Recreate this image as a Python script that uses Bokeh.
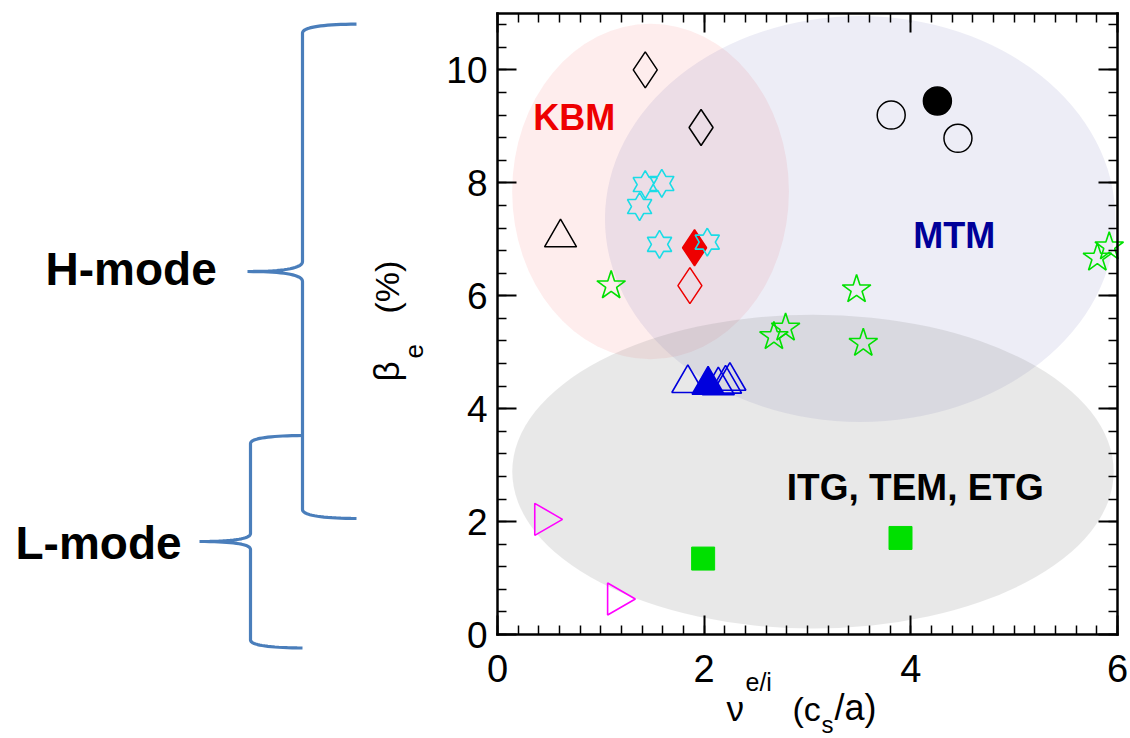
import numpy as np
from bokeh.plotting import figure
from bokeh.models import Range1d, LinearAxis, SingleIntervalTicker, Label, ColumnDataSource
from bokeh.embed import file_html
from bokeh.resources import INLINE

FONT = "Liberation Sans"

# ---------------- data ----------------
region_names = ["KBM", "MTM", "ITG, TEM, ETG"]
region_x = [1.481, 3.51, 3.053]
region_y = [7.847, 7.36, 2.886]
region_w = [2.678, 4.94, 5.82]
region_h = [5.94, 7.19, 5.56]
region_label_x = [0.346, 4.024, 2.80]
region_label_y = [9.16, 7.06, 2.61]

diam_open_black_x = [1.43, 1.97]
diam_open_black_y = [10.0, 8.98]
diam_fill_red_x = [1.907]
diam_fill_red_y = [6.85]
diam_open_red_x = [1.862]
diam_open_red_y = [6.18]
tri_black_x = [0.61]
tri_black_y = [7.03]
hexstar_x = [1.43, 1.59, 1.375, 1.568, 2.03]
hexstar_y = [7.97, 7.99, 7.58, 6.91, 6.95]
star_x = [1.10, 2.675, 2.788, 3.475, 3.54, 5.805, 5.92]
star_y = [6.18, 5.28, 5.43, 6.11, 5.16, 6.67, 6.87]
circ_open_x = [3.81, 4.456]
circ_open_y = [9.20, 8.79]
circ_fill_x = [4.257]
circ_fill_y = [9.45]
tri_blue_open_x = [1.842, 2.137, 2.207, 2.249]
tri_blue_open_y = [4.45, 4.41, 4.44, 4.49]
tri_blue_fill_x = [2.038]
tri_blue_fill_y = [4.42]
tri_mag_x = [0.45, 1.155]
tri_mag_y = [2.04, 0.63]
square_x = [1.99, 3.90]
square_y = [1.345, 1.71]

x_axis_range = [0, 6]
y_axis_range = [0, 11]
x_tick_interval = 2
y_tick_interval = 2

# ---------------- styles ----------------
region_fill = ["#f56e6e", "#5a5aaa", "#808080"]
region_alpha = [0.12, 0.11, 0.18]
region_text_color = ["#ee0000", "#000099", "#000000"]
region_text_size = ["36px", "36px", "37px"]

GREEN = "#00e000"
CYAN = "#1adce6"
BLUE = "#0000dd"
RED = "#ee0000"
MAGENTA = "#ff00ff"
BRACE = "#4a7ebb"

# page geometry: the plotting box of the axes in canvas pixels
W, H = 1130, 738
BOX_L, BOX_R, BOX_T, BOX_B = 497, 1117, 13, 634
SX = (BOX_R - BOX_L) / (x_axis_range[1] - x_axis_range[0])
SY = (BOX_B - BOX_T) / (y_axis_range[1] - y_axis_range[0])


def X(px):
    return x_axis_range[0] + (px - BOX_L) / SX


def Y(py):
    return y_axis_range[0] + (BOX_B - py) / SY


p = figure(width=W, height=H, x_range=Range1d(X(0), X(W)), y_range=Range1d(Y(H), Y(0)),
           output_backend="svg", toolbar_location=None, min_border=0,
           x_axis_type=None, y_axis_type=None)
p.outline_line_color = None
p.background_fill_color = "white"
p.border_fill_color = "white"


def make_axis(ticker, loc, bounds, labels):
    ax = LinearAxis(ticker=ticker, fixed_location=loc, bounds=tuple(bounds))
    ax.axis_line_color = "black"
    ax.axis_line_width = 2.5
    ax.axis_line_cap = "square"
    ax.major_tick_in = 19
    ax.major_tick_out = 0
    ax.minor_tick_in = 9
    ax.minor_tick_out = 0
    ax.major_tick_line_width = 2
    ax.minor_tick_line_width = 1.5
    ax.major_tick_line_color = "black"
    ax.minor_tick_line_color = "black"
    if labels:
        ax.major_label_text_font = FONT
        ax.major_label_text_color = "black"
    else:
        ax.major_label_text_color = None
        ax.major_label_text_font_size = "1px"
        ax.major_label_standoff = 0
    return ax


xa = make_axis(SingleIntervalTicker(interval=x_tick_interval, num_minor_ticks=10),
               y_axis_range[0], x_axis_range, True)
xa.major_label_text_font_size = "38px"
xa.major_label_standoff = 20
ya = make_axis(SingleIntervalTicker(interval=y_tick_interval, num_minor_ticks=5),
               x_axis_range[0], y_axis_range, True)
ya.major_label_text_font_size = "37px"
ya.major_label_standoff = 10
xt = make_axis(SingleIntervalTicker(interval=x_tick_interval, num_minor_ticks=10),
               y_axis_range[1], x_axis_range, False)
yr = make_axis(SingleIntervalTicker(interval=y_tick_interval, num_minor_ticks=5),
               x_axis_range[1], y_axis_range, False)
p.add_layout(xa, "below")
p.add_layout(ya, "left")
p.add_layout(xt, "above")
p.add_layout(yr, "right")

# regions
rsrc = ColumnDataSource(dict(x=region_x, y=region_y, w=region_w, h=region_h,
                             c=region_fill, a=region_alpha))
p.ellipse(x="x", y="y", width="w", height="h", fill_color="c", fill_alpha="a",
          line_color=None, source=rsrc)

for name, lx, ly, col, fs in zip(region_names, region_label_x, region_label_y,
                                 region_text_color, region_text_size):
    p.add_layout(Label(x=lx, y=ly, text=name, text_font=FONT, text_font_style="bold",
                       text_font_size=fs, text_color=col, text_align="left",
                       text_baseline="middle"))

# markers
p.scatter(diam_open_black_x, diam_open_black_y, marker="diamond", size=36,
          fill_color=None, line_color="black", line_width=1.5)
p.scatter(diam_fill_red_x, diam_fill_red_y, marker="diamond", size=36,
          fill_color=RED, line_color=RED, line_width=1.5)
p.scatter(diam_open_red_x, diam_open_red_y, marker="diamond", size=36,
          fill_color=None, line_color=RED, line_width=1.5)
p.scatter(tri_black_x, tri_black_y, marker="triangle", size=32,
          fill_color=None, line_color="black", line_width=1.5)


def hexagram(xc, yc, R=14.0):
    k = np.arange(13)
    ang = np.deg2rad(90 + 30 * k)
    r = np.where(k % 2 == 0, R, R / np.sqrt(3))
    return list(xc + r * np.cos(ang) / SX), list(yc + r * np.sin(ang) / SY)


hx, hy = [], []
for cx, cy in zip(hexstar_x, hexstar_y):
    a, b_ = hexagram(cx, cy)
    hx.append(a)
    hy.append(b_)
p.multi_line(hx, hy, line_color=CYAN, line_width=1.6)

p.scatter(star_x, star_y, marker="star", size=30, fill_color=None,
          line_color=GREEN, line_width=1.6)
p.scatter(circ_open_x, circ_open_y, marker="circle", size=28, fill_color=None,
          line_color="black", line_width=1.5)
p.scatter(circ_fill_x, circ_fill_y, marker="circle", size=28, fill_color="black",
          line_color="black", line_width=1.5)
p.scatter(tri_blue_open_x, tri_blue_open_y, marker="triangle", size=32, fill_color=None,
          line_color=BLUE, line_width=1.6)
p.scatter(tri_blue_fill_x, tri_blue_fill_y, marker="triangle", size=32, fill_color=BLUE,
          line_color=BLUE, line_width=1.6)
p.scatter(tri_mag_x, tri_mag_y, marker="triangle", size=32, angle=-np.pi / 2,
          fill_color=None, line_color=MAGENTA, line_width=1.6)
p.scatter(square_x, square_y, marker="square", size=23, fill_color=GREEN, line_color=GREEN)


# axis titles built from pieces; (px, mid) = canvas pixel position of the text's middle line
def lab(px, py, text, size, angle=0.0, style="normal", align="left"):
    p.add_layout(Label(x=X(px), y=Y(py), text=text, text_font=FONT, text_font_size=size,
                       text_font_style=style, angle=angle, text_align=align,
                       text_baseline="middle", text_color="black"))


lab(726, 707.5, "ν", "35px")
lab(745, 681, "e/i", "25px")
lab(792, 708, "(c", "34px")
lab(821, 724, "s", "24px")
lab(834, 707, "/a)", "36px")

lab(386, 381, "β", "35px", angle=np.pi / 2)
lab(413, 358, "e", "26px", angle=np.pi / 2)
lab(386, 313, "(%)", "34px", angle=np.pi / 2)


# ---------------- braces on the left ----------------
def qbez(p0, c, p1, n=20):
    t = np.linspace(0, 1, n)
    xs = (1 - t) ** 2 * p0[0] + 2 * (1 - t) * t * c[0] + t ** 2 * p1[0]
    ys = (1 - t) ** 2 * p0[1] + 2 * (1 - t) * t * c[1] + t ** 2 * p1[1]
    return list(xs), list(ys)


def brace(xl, xtip_r, xtip_l, ytop, ymid, ybot, bend=9, mid=10):
    segs = [
        qbez((xtip_r, ytop), (xl, ytop + 0.5), (xl, ytop + bend)),
        ([xl, xl], [ytop + bend, ymid - mid]),
        qbez((xl, ymid - mid), (xl, ymid), (xtip_l, ymid)),
        qbez((xtip_l, ymid), (xl, ymid), (xl, ymid + mid)),
        ([xl, xl], [ymid + mid, ybot - bend]),
        qbez((xl, ybot - bend), (xl, ybot - 0.5), (xtip_r, ybot)),
    ]
    xs, ys = [], []
    for sx_, sy_ in segs:
        xs += [X(v) for v in sx_]
        ys += [Y(v) for v in sy_]
    return xs, ys


hx1, hy1 = brace(302, 356, 247, 23.6, 271, 518)
lx1, ly1 = brace(250, 302, 199, 435, 541, 647.5, bend=8, mid=8)
p.line(hx1, hy1, line_color=BRACE, line_width=3.2)
p.line(lx1, ly1, line_color=BRACE, line_width=3.2)

lab(45, 268.5, "H-mode", "46px", style="bold")
lab(15, 542.5, "L-mode", "46px", style="bold")

open("out.html", "w").write(file_html(p, INLINE))
